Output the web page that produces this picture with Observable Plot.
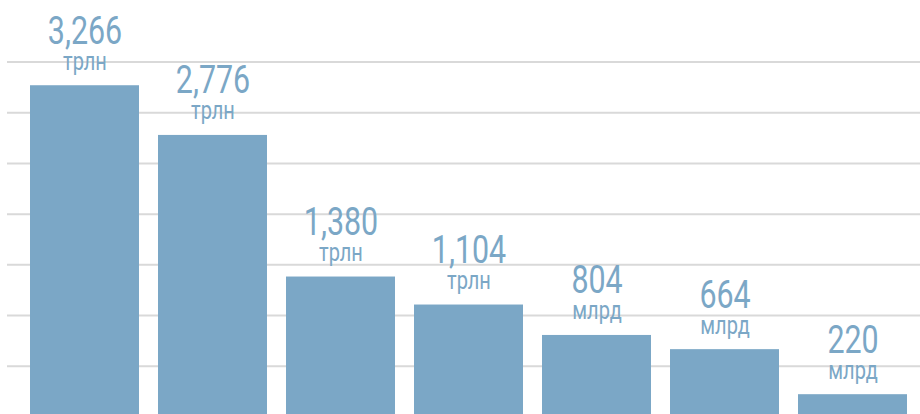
<!DOCTYPE html>
<html>
<head>
<meta charset="utf-8">
<script src="https://cdn.jsdelivr.net/npm/d3@7"></script>
<script src="https://cdn.jsdelivr.net/npm/@observablehq/plot@0.6"></script>
<style>
  html, body { margin: 0; padding: 0; background: #fff; overflow: hidden; }
</style>
</head>
<body>
<div id="chart"></div>
<script>
const categories = ["c1", "c2", "c3", "c4", "c5", "c6", "c7"];
const values = [3.266, 2.776, 1.380, 1.104, 0.804, 0.664, 0.220]; // trillions
const valueLabels = ["3,266", "2,776", "1,380", "1,104", "804", "664", "220"];
const unitLabels = ["трлн", "трлн", "трлн", "трлн", "млрд", "млрд", "млрд"];
const gridTicks = [0.5, 1.0, 1.5, 2.0, 2.5, 3.0, 3.5];

const data = categories.map((c, i) => ({cat: c, value: values[i], label: valueLabels[i], unit: unitLabels[i]}));

const FONT = "Roboto, 'Noto Sans', sans-serif";
const BLUE = "#7ba7c6";

const chart = Plot.plot({
  width: 920,
  height: 414,
  marginLeft: 7,
  marginRight: 0,
  marginTop: 61.5,
  marginBottom: -2.5,
  style: {background: "white", overflow: "visible"},
  x: {domain: categories, range: [28, 910], paddingInner: 0.145, paddingOuter: 0, axis: null},
  y: {domain: [0, 3.5], axis: null},
  marks: [
    Plot.ruleY(gridTicks, {stroke: "#d9d9d9", strokeWidth: 2}),
    Plot.barY(data, {x: "cat", y: "value", fill: BLUE}),
    Plot.text(data, {x: "cat", y: "value", text: "label", dy: -42, lineAnchor: "bottom",
      fontSize: 38, fontFamily: FONT, fill: BLUE}),
    Plot.text(data, {x: "cat", y: "value", text: "unit", dy: -16, lineAnchor: "bottom",
      fontSize: 25, fontFamily: FONT, fill: BLUE})
  ]
});
document.getElementById("chart").appendChild(chart);

// Condense the labels horizontally (the reference uses a condensed typeface)
d3.select(chart).selectAll("text").each(function() {
  const t = this.getAttribute("transform") || "";
  const xAttr = this.getAttribute("x");
  if (xAttr != null && xAttr !== "") {
    const x = +xAttr;
    this.setAttribute("transform", `${t} translate(${x},0) scale(0.8,1) translate(${-x},0)`);
  } else {
    this.setAttribute("transform", `${t} scale(0.8,1)`);
  }
});
</script>
</body>
</html>
